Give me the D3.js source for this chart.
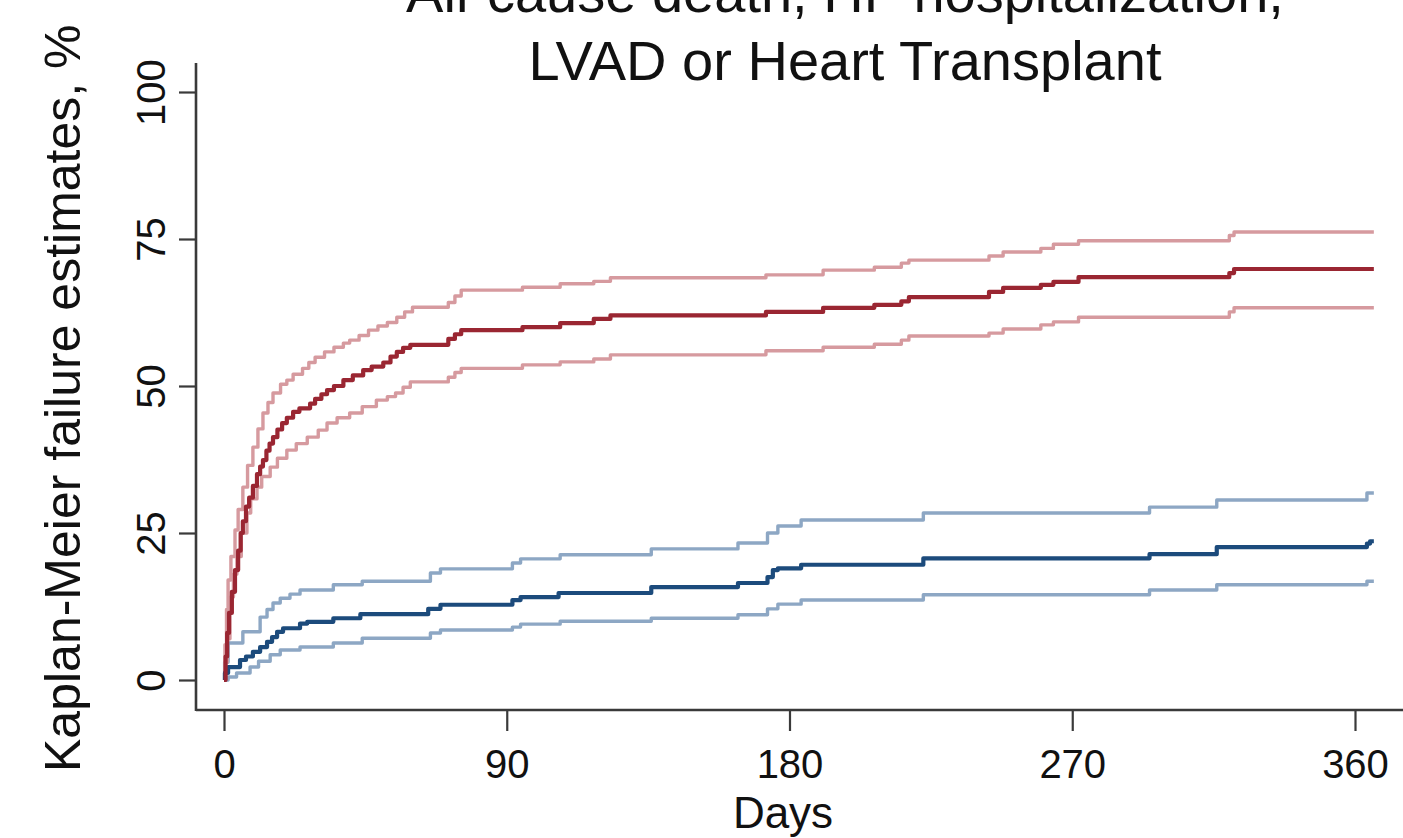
<!DOCTYPE html>
<html>
<head>
<meta charset="utf-8">
<script src="https://cdn.jsdelivr.net/npm/d3@7"></script>
<style>
  body { margin: 0; background: #fff; }
  svg { display: block; }
  text { font-family: "Liberation Sans", Arial, Helvetica, sans-serif; fill: #111; }
</style>
</head>
<body>
<svg id="chart" width="1403" height="838"></svg>
<script>
// tick labels and text
const xTicks = [0, 90, 180, 270, 360];
const yTicks = [0, 25, 50, 75, 100];
const titleLines = ["All-cause death, HF hospitalization,", "LVAD or Heart Transplant"];
const xTitle = "Days";
const yTitle = "Kaplan-Meier failure estimates, %";

// [day, failure %], drawn as steps
const redMain = [[0,0],[0.5,4],[1,8],[1.6,11.4],[2.5,15],[3.5,18.7],[4.5,22],[5.3,25],[6,27],[7,29.5],[8,31],[9.2,33],[10.5,35],[11.5,36.3],[12.4,37.4],[13.5,39],[14.5,40.2],[15.6,41.3],[17,42.6],[18.5,43.7],[20,44.6],[22,45.6],[24,46.2],[27.4,47],[29,47.8],[31,48.6],[32.8,49.3],[35,50],[38,51],[41,51.8],[44.3,52.7],[47,53.3],[50.7,54],[53,55],[55,55.8],[57,56.5],[59.3,57],[71.4,58],[73.5,58.8],[75.5,59.5],[95,60],[107,60.7],[117.7,61.4],[123,62],[172.5,62.6],[190.7,63.3],[207,63.8],[215.6,64.4],[218,65.1],[243.5,66],[248,66.7],[260,67.2],[264,67.7],[272,68.5],[320,69.2],[321.5,69.9],[366,69.9]];
const redUpper = [[0,0],[0.3,6],[0.8,12],[1.3,17],[2.2,21],[3.5,25.5],[4.5,29],[6,32.8],[7.5,36.5],[9.2,39.6],[10.8,42.7],[12.4,45.4],[14,47.2],[15.6,48.8],[18,50.3],[20,51],[22,52],[25,53],[27,54],[29,54.9],[32,55.8],[35,56.6],[38,57.3],[40,57.8],[43,58.6],[46,59.5],[49,60.2],[52,60.8],[55,61.7],[57.5,62.6],[60,63.4],[71.4,64.2],[73.5,65.3],[75.5,66.3],[95,66.8],[107,67.4],[117.7,67.8],[123,68.4],[172.5,68.9],[190.7,69.7],[207,70.2],[215.6,70.9],[218,71.4],[243.5,72.1],[248,72.8],[260,73.4],[264,74.1],[272,74.7],[320,75.6],[321.5,76.2],[366,76.2]];
const redLower = [[0,0],[0.5,3],[1,7],[1.9,14.1],[3,18],[4.1,21],[5.5,25],[7.3,28.4],[8.5,30.8],[10.5,32.8],[12,34.6],[14.7,36.2],[17,37.7],[20,39.1],[23,40.2],[26.5,41.3],[30,42.5],[32.8,43.7],[36,44.6],[40,45.4],[44,46.5],[48.5,47.6],[52,48.2],[54.6,48.8],[57,49.8],[59.3,50.7],[71.4,51.5],[73.5,52.3],[75.5,53],[95,53.6],[107,54.1],[117.7,54.6],[123,55.3],[172.5,56],[190.7,56.6],[207,57.1],[215.6,57.8],[218,58.5],[243.5,59],[248,59.7],[260,60.4],[264,60.9],[272,61.7],[320,62.6],[321.5,63.3],[366,63.3]];
const blueMain = [[0,0],[0.3,1.2],[1.3,2.2],[5.1,3.4],[7,4],[9.2,4.8],[11.5,5.6],[13.7,6.5],[15.3,7.3],[16.9,8.2],[18.8,8.8],[24.2,9.6],[26.5,9.9],[34.8,10.5],[43.4,11.2],[65,12.1],[68.9,12.8],[91.8,13.6],[94.4,14.1],[106.5,14.8],[136,15.8],[163.6,16.5],[173,17.5],[174.7,18.7],[176.3,19],[183.7,19.6],[222.6,20.7],[294.6,21.4],[316,22.6],[363.8,23.2],[364.8,23.6],[366,23.6]];
const blueUpper = [[0,0],[0.2,3],[1.3,6.3],[6,8.2],[11.5,10.7],[13.7,12],[15.6,13.1],[17.9,13.9],[21,14.6],[24.2,15.3],[34.8,16.2],[44,16.8],[65.7,18.2],[68.9,18.9],[91.8,19.9],[94.4,20.6],[107,21.3],[136,22.3],[163.6,23.3],[173,25],[176.3,26.2],[183.7,27.2],[222.6,28.4],[294.6,29.4],[316,30.6],[363.8,31.8],[366,31.8]];
const blueLower = [[0,0],[1.3,0.5],[4,1.2],[8.3,2.2],[11,3.2],[14.7,4.3],[17.9,5.1],[24.2,5.6],[34.8,6.3],[44,7.1],[65.7,8],[68.9,8.5],[91.8,9],[94.4,9.5],[107,10],[136,10.5],[163.6,11.1],[173,12.1],[176.3,12.9],[183.7,13.6],[222.6,14.5],[294.6,15.3],[316,16.2],[363.8,16.8],[366,16.8]];

const svg = d3.select("#chart");

const x = d3.scaleLinear().domain([0, 360]).range([224, 1355]);
const y = d3.scaleLinear().domain([0, 100]).range([680, 92]);

const axisColor = "#3a3a3a";

// title
svg.append("g")
  .selectAll("text")
  .data(titleLines)
  .join("text")
  .attr("x", 845)
  .attr("y", (d, i) => 12 + i * 68)
  .attr("text-anchor", "middle")
  .style("font-size", "56px")
  .text(d => d);

// x axis
const gx = svg.append("g")
  .attr("transform", "translate(0,710)")
  .call(d3.axisBottom(x).tickValues(xTicks).tickSize(21).tickSizeOuter(0));
gx.select(".domain").remove();
gx.selectAll(".tick line").attr("stroke", axisColor).attr("stroke-width", 2.2);
gx.selectAll(".tick text")
  .attr("y", 68).attr("dy", 0)
  .style("font-size", "40px").style("fill", "#111");
svg.append("line")
  .attr("x1", 196).attr("x2", 1403)
  .attr("y1", 710).attr("y2", 710)
  .attr("stroke", axisColor).attr("stroke-width", 2.6);

// y axis
const gy = svg.append("g")
  .attr("transform", "translate(196,0)")
  .call(d3.axisLeft(y).tickValues(yTicks).tickSize(17).tickSizeOuter(0));
gy.select(".domain").remove();
gy.selectAll(".tick line").attr("stroke", axisColor).attr("stroke-width", 2.2);
gy.selectAll(".tick text")
  .attr("x", 0).attr("y", -31).attr("dy", 0)
  .attr("transform", "rotate(-90)")
  .attr("text-anchor", "middle")
  .style("font-size", "40px").style("fill", "#111");
svg.append("line")
  .attr("x1", 196).attr("x2", 196)
  .attr("y1", 63).attr("y2", 711)
  .attr("stroke", axisColor).attr("stroke-width", 2.6);

// axis titles
svg.append("text")
  .attr("x", 783).attr("y", 828)
  .attr("text-anchor", "middle")
  .style("font-size", "44px")
  .text(xTitle);

svg.append("text")
  .attr("transform", "translate(80,772) rotate(-90)")
  .attr("text-anchor", "start")
  .style("font-size", "50px")
  .text(yTitle);

// curves
const line = d3.line()
  .x(d => x(d[0]))
  .y(d => y(d[1]))
  .curve(d3.curveStepAfter);

const series = [
  { data: blueUpper, color: "#8da7c4", width: 3.4 },
  { data: blueLower, color: "#8da7c4", width: 3.4 },
  { data: redUpper, color: "#d69a9f", width: 3.4 },
  { data: redLower, color: "#d69a9f", width: 3.4 },
  { data: blueMain, color: "#1c4b7c", width: 4.2 },
  { data: redMain, color: "#9a2632", width: 4.2 }
];

svg.append("g")
  .selectAll("path")
  .data(series)
  .join("path")
  .attr("d", d => line(d.data))
  .attr("fill", "none")
  .attr("stroke", d => d.color)
  .attr("stroke-width", d => d.width)
  .attr("stroke-linejoin", "round");
</script>
</body>
</html>
